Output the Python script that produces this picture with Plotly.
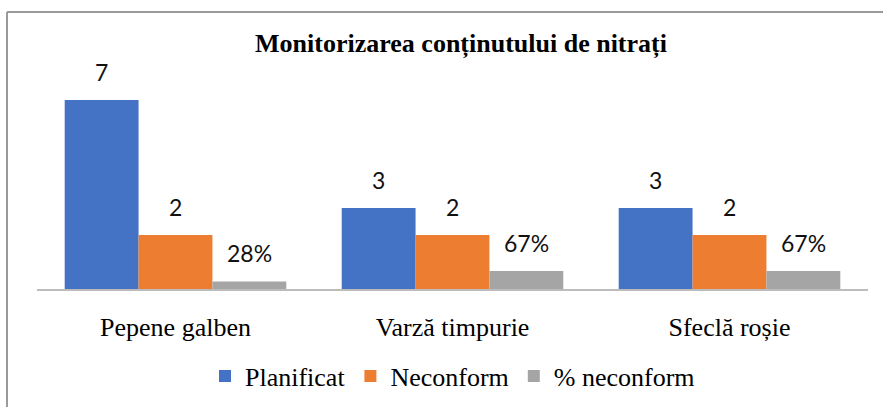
import plotly.graph_objects as go

categories = ["Pepene galben", "Varză timpurie", "Sfeclă roșie"]
planificat = [7, 3, 3]
neconform = [2, 2, 2]
pct_neconform = [0.28, 0.67, 0.67]
pct_labels = ["28%", "67%", "67%"]
series_names = ["Planificat", "Neconform", "% neconform"]
colors = ["#4472C4", "#ED7D31", "#A5A5A5"]

SERIF = "Liberation Serif, Times New Roman, serif"
W, H = 883, 407
ML, MR, MT, MB = 37, 15, 60, 118
px_per_unit = 27.0
plot_h = H - MT - MB
yr = plot_h / px_per_unit

fig = go.Figure()
values = [planificat, neconform, pct_neconform]
labels = [[str(v) for v in planificat], [str(v) for v in neconform], pct_labels]
for name, vals, col in zip(series_names, values, colors):
    fig.add_trace(go.Bar(x=categories, y=vals, name=name,
                         marker=dict(color=col, line=dict(width=0)),
                         hoverinfo="skip"))

plot_w = W - ML - MR
group_w = plot_w / len(categories) * 0.8
bar_w = group_w / 3
shifts = [-bar_w, 0, bar_w]
for vals, labs, sh in zip(values, labels, shifts):
    for c, v, t in zip(categories, vals, labs):
        fig.add_annotation(x=c, y=v, xref="x", yref="y", text=t, showarrow=False,
                           yanchor="bottom", xshift=sh, yshift=12,
                           font=dict(family="Lato", size=23, color="#111"))

# chart border (top and left edges)
bx = (7 - ML) / plot_w
by = (H - MB - 12) / plot_h
by0 = (H - MB - H) / plot_h
fig.add_shape(type="line", xref="paper", yref="paper", x0=bx, x1=(W - ML) / plot_w + 0.01,
              y0=by, y1=by, line=dict(color="#9a9a9a", width=2))
fig.add_shape(type="line", xref="paper", yref="paper", x0=bx, x1=bx,
              y0=by0 - 0.01, y1=by, line=dict(color="#9a9a9a", width=2))

fig.update_layout(
    width=W, height=H,
    margin=dict(l=ML, r=MR, t=MT, b=MB, autoexpand=False),
    font=dict(family=SERIF, size=26, color="#000"),
    paper_bgcolor="white", plot_bgcolor="white",
    barmode="group", bargap=0.2, bargroupgap=0,
    title=dict(text="<b>Monitorizarea conținutului de nitrați</b>",
               x=461 / W, xanchor="center", y=1 - 43 / H, yanchor="middle",
               font=dict(family=SERIF, size=26, color="#000")),
    legend=dict(orientation="h", x=0.5, xanchor="center",
                yref="container", y=1 - 376 / H, yanchor="middle",
                font=dict(family=SERIF, size=26, color="#000"),
                itemwidth=30, traceorder="normal"),
    showlegend=True,
    xaxis=dict(showline=True, linecolor="#bcbcbc", linewidth=2, ticks="",
               tickfont=dict(family=SERIF, size=26, color="#000"),
               ticklabelstandoff=14, showgrid=False, zeroline=False, automargin=False),
    yaxis=dict(range=[0, yr], visible=False, showgrid=False, zeroline=False, automargin=False),
)

fig.write_html("out.html", config={"displayModeBar": False, "staticPlot": True},
               post_script="document.body.style.margin='0';document.body.style.overflow='hidden';")
